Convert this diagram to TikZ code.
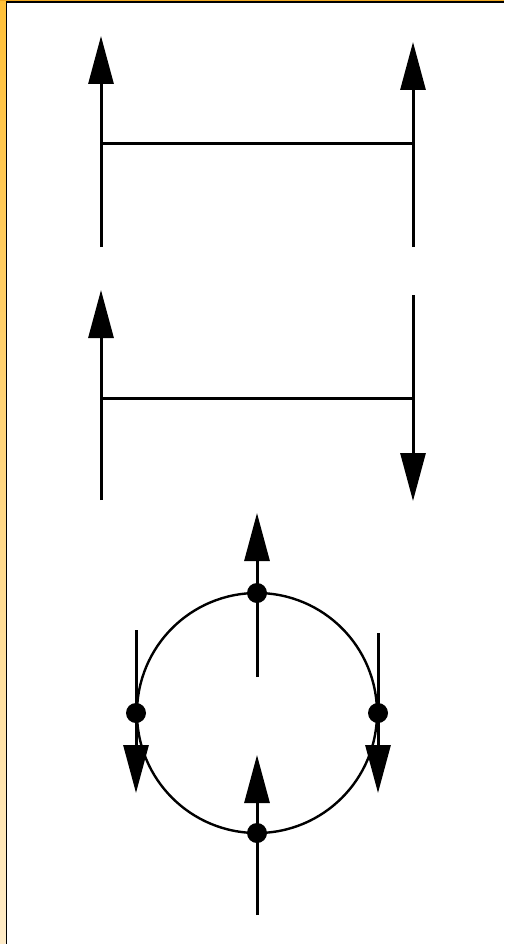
\documentclass[tikz,border=0pt]{standalone}
\usetikzlibrary{arrows.meta}
\definecolor{frametop}{RGB}{255,192,56}
\definecolor{framebot}{RGB}{255,236,200}
\definecolor{frameedge}{RGB}{240,168,32}
\begin{document}
\begin{tikzpicture}[x=1pt,y=-1pt,
  wire/.style={line width=3pt},
  flow/.style={wire,-{Triangle[length=48pt,width=25pt]}},
  pin/.style={circle,fill=black,inner sep=0pt,minimum size=20pt},
  endpt/.style={inner sep=0pt,minimum size=0pt}]
  % page frame
  \useasboundingbox (0,0) rectangle (504,944);
  \fill[white] (0,0) rectangle (504,944);
  \shade[top color=frametop,bottom color=framebot] (0,0) rectangle (5.5,944);
  \fill[frameedge] (0,0) rectangle (504,1.2);
  \fill[black] (5.5,1.2) rectangle (7.3,944);
  \fill[black] (5.5,1.2) rectangle (504,3.2);

  % first pair: both lines point up
  \node[endpt] (a1) at (101,247) {};
  \node[endpt] (a2) at (101,36) {};
  \node[endpt] (b1) at (413,247) {};
  \node[endpt] (b2) at (413,42) {};
  \node[endpt] (am) at (101,144) {};
  \node[endpt] (bm) at (413,144) {};
  \draw[flow] (a1.center) -- (a2.center);
  \draw[flow] (b1.center) -- (b2.center);
  \draw[wire] (am.center) -- (bm.center);

  % second pair: left up, right down
  \node[endpt] (c1) at (101,500) {};
  \node[endpt] (c2) at (101,290) {};
  \node[endpt] (d1) at (413,295) {};
  \node[endpt] (d2) at (413,501) {};
  \node[endpt] (cm) at (101,398) {};
  \node[endpt] (dm) at (413,398) {};
  \draw[flow] (c1.center) -- (c2.center);
  \draw[flow] (d1.center) -- (d2.center);
  \draw[wire] (cm.center) -- (dm.center);

  % ring with four pins
  \node[circle,draw,line width=2.4pt,minimum size=240pt,inner sep=0pt] (ring) at (257,713) {};
  \node[endpt] (t1) at (257,677) {};
  \node[endpt] (t2) at (257,513) {};
  \node[endpt] (u1) at (257,915) {};
  \node[endpt] (u2) at (257,755) {};
  \node[endpt] (l1) at (136,630) {};
  \node[endpt] (l2) at (136,793) {};
  \node[endpt] (r1) at (378,633) {};
  \node[endpt] (r2) at (378,793) {};
  \draw[flow] (t1.center) -- (t2.center);
  \draw[flow] (u1.center) -- (u2.center);
  \draw[flow] (l1.center) -- (l2.center);
  \draw[flow] (r1.center) -- (r2.center);
  \node[pin] (pt) at (257,593) {};
  \node[pin] (pb) at (257,833) {};
  \node[pin] (pl) at (136,713) {};
  \node[pin] (pr) at (378,713) {};
\end{tikzpicture}
\end{document}
